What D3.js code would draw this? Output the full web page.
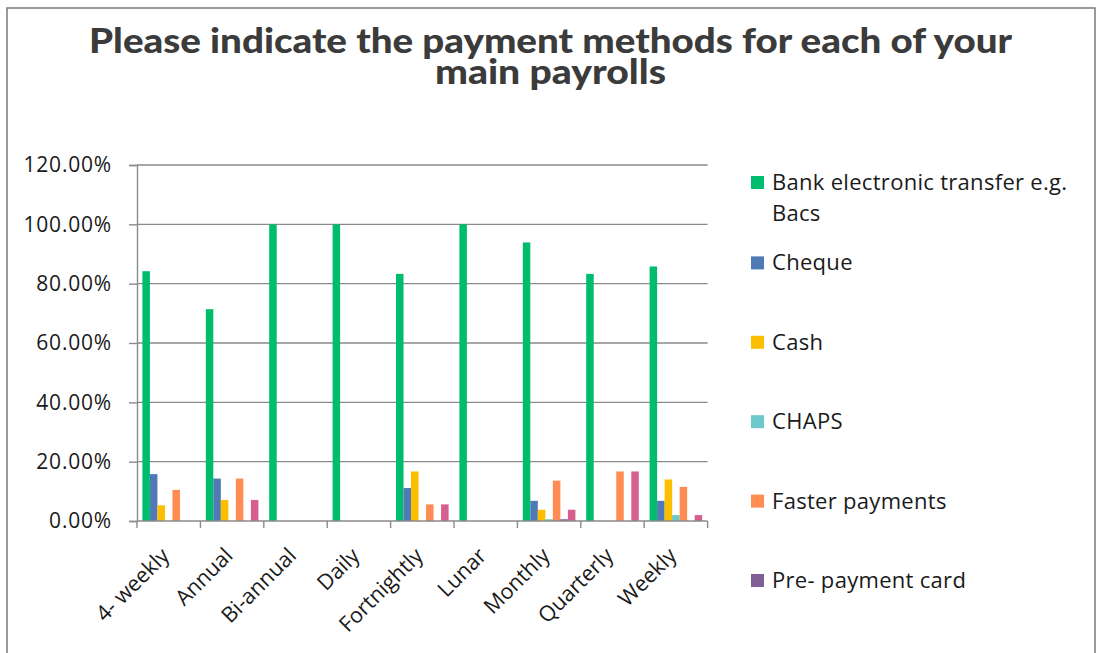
<!DOCTYPE html>
<html>
<head>
<meta charset="utf-8">
<script src="https://cdn.jsdelivr.net/npm/d3@7"></script>
<style>
  html, body { margin: 0; padding: 0; background: #fff; }
  svg { display: block; }
</style>
</head>
<body>
<svg id="chart" width="1098" height="653"></svg>
<script>
// Payroll frequencies (x categories)
const categories = ["4- weekly", "Annual", "Bi-annual", "Daily", "Fortnightly", "Lunar", "Monthly", "Quarterly", "Weekly"];

// Share of respondents using each payment method, per payroll frequency (%)
const bankTransfer = [84.2, 71.4, 100, 100, 83.3, 100, 93.9, 83.3, 85.8];
const cheque       = [15.8, 14.3, 0, 0, 11.1, 0, 6.8, 0, 6.8];
const cash         = [5.3, 7.1, 0, 0, 16.7, 0, 3.8, 0, 14.0];
const chaps        = [0, 0, 0, 0, 0, 0, 0.6, 0, 2.0];
const faster       = [10.5, 14.3, 0, 0, 5.6, 0, 13.6, 16.7, 11.5];
const prePayment   = [0, 0, 0, 0, 0, 0, 0.6, 0, 0];
const other        = [0, 7.1, 0, 0, 5.6, 0, 3.8, 16.7, 2.0];

const seriesNames = ["Bank electronic transfer e.g. Bacs", "Cheque", "Cash", "CHAPS", "Faster payments", "Pre- payment card", "Other"];
const seriesValues = [bankTransfer, cheque, cash, chaps, faster, prePayment, other];
const seriesColors = ["#00bd6e", "#4f7ab6", "#fbbf00", "#6dc9c9", "#ff8c52", "#7f5f95", "#d55f8f"];

// Y axis tick values (fractions)
const yTicks = [0, 0.2, 0.4, 0.6, 0.8, 1.0, 1.2];

const W = 1098, H = 653;
const svg = d3.select("#chart");
const gridColor = "#8a8a8a";
const labelFont = "'Open Sans', Lato, sans-serif";
const textColor = "#1a1a1a";

// Frame around the chart area
svg.append("path")
  .attr("d", `M7,${H} L7,8 L1095,8 L1095,${H}`)
  .attr("fill", "none")
  .attr("stroke", "#7a7a7a")
  .attr("stroke-width", 1.5);

// Title
const title = svg.append("text")
  .attr("text-anchor", "middle")
  .attr("font-family", "Lato, 'Open Sans', sans-serif")
  .attr("font-weight", 900)
  .attr("font-size", 35)
  .attr("fill", "#3b3b3b");
title.append("tspan").attr("x", 550.5).attr("y", 53)
  .attr("textLength", 923).attr("lengthAdjust", "spacingAndGlyphs")
  .text("Please indicate the payment methods for each of your");
title.append("tspan").attr("x", 550.5).attr("y", 84)
  .attr("textLength", 231).attr("lengthAdjust", "spacingAndGlyphs")
  .text("main payrolls");

// Scales
const x0 = d3.scaleBand().domain(categories).range([137, 707.6]).paddingInner(0).paddingOuter(0);
const groupPad = 5.4;
const x1 = d3.scaleBand().domain(d3.range(seriesNames.length)).range([groupPad, x0.bandwidth() - groupPad]).padding(0);
const y = d3.scaleLinear().domain([0, 1.2]).range([521, 165]);

// Horizontal gridlines
svg.append("g")
  .selectAll("line")
  .data(yTicks.filter(t => t > 0))
  .join("line")
  .attr("x1", 137).attr("x2", 707.6)
  .attr("y1", d => y(d)).attr("y2", d => y(d))
  .attr("stroke", gridColor).attr("stroke-width", 1.4);

// Y axis
const yAxis = svg.append("g")
  .attr("transform", "translate(137,0)")
  .call(d3.axisLeft(y).tickValues(yTicks).tickFormat(d3.format(".2%")).tickSize(8).tickPadding(17));
yAxis.select(".domain").attr("stroke", gridColor).attr("stroke-width", 1.4);
yAxis.selectAll(".tick line").attr("stroke", gridColor).attr("stroke-width", 1.4);
yAxis.selectAll(".tick text")
  .attr("font-family", labelFont).attr("font-size", 21).attr("letter-spacing", 0.8)
  .attr("fill", textColor);

// Bars
const groups = svg.append("g")
  .selectAll("g")
  .data(categories)
  .join("g")
  .attr("transform", d => `translate(${x0(d)},0)`);

groups.selectAll("rect")
  .data((d, i) => seriesValues.map((vals, s) => ({ s, v: vals[i] / 100 })))
  .join("rect")
  .attr("x", d => x1(d.s))
  .attr("width", x1.bandwidth())
  .attr("y", d => y(d.v))
  .attr("height", d => y(0) - y(d.v))
  .attr("fill", d => seriesColors[d.s]);

// X axis with tick marks at category boundaries
const xAxisG = svg.append("g").attr("transform", "translate(0,521)");
xAxisG.append("line")
  .attr("x1", 137).attr("x2", 707.6)
  .attr("stroke", gridColor).attr("stroke-width", 1.4);
const boundaries = categories.map(c => x0(c)).concat([x0.range()[1]]);
xAxisG.selectAll("line.tick")
  .data(boundaries)
  .join("line")
  .attr("class", "tick")
  .attr("x1", d => d).attr("x2", d => d)
  .attr("y1", 0).attr("y2", 7)
  .attr("stroke", gridColor).attr("stroke-width", 1.4);
xAxisG.selectAll("text")
  .data(categories)
  .join("text")
  .attr("transform", d => `translate(${x0(d) + x0.bandwidth() / 2 + 2},${36}) rotate(-45)`)
  .attr("text-anchor", "end")
  .attr("font-family", labelFont).attr("font-size", 21.5).attr("fill", textColor)
  .text(d => d);

// Legend (entries spaced down the right-hand side; only those that fit are drawn)
const legendTop = 176, legendStep = 79.4;
const legend = svg.append("g");
seriesNames.forEach((name, i) => {
  const sqTop = legendTop + i * legendStep + (i > 0 ? 1 : 0);
  const baseline = sqTop + 14;
  if (baseline > H - 10) return;
  legend.append("rect")
    .attr("x", 751).attr("y", sqTop).attr("width", 13).attr("height", 13)
    .attr("fill", seriesColors[i]);
  const t = legend.append("text")
    .attr("font-family", labelFont).attr("font-size", 22).attr("letter-spacing", 0.3)
    .attr("fill", textColor);
  if (i === 0) {
    t.append("tspan").attr("x", 772).attr("y", baseline).text("Bank electronic transfer e.g.");
    t.append("tspan").attr("x", 772).attr("y", baseline + 31).text("Bacs");
  } else {
    t.append("tspan").attr("x", 772).attr("y", baseline).text(name);
  }
});
</script>
</body>
</html>
